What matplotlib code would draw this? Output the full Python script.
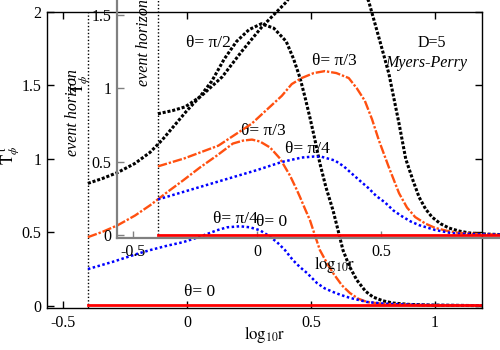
"""Energy density T_phi^t vs log10 r for D=5 Myers-Perry, with overlaid copy (inset)."""

import matplotlib
matplotlib.use("Agg")
import matplotlib.pyplot as plt

plt.rcParams["font.family"] = ["Liberation Serif", "DejaVu Serif"]
plt.rcParams["mathtext.fontset"] = "stix"

# ---- main panel data (log10 r, T) ----
main_black_x = [-0.40, -0.34, -0.28, -0.21, -0.15, -0.10, -0.05, 0.0, 0.05, 0.10, 0.15, 0.20,
                0.25, 0.30, 0.35, 0.40, 0.43, 0.456, 0.476, 0.496, 0.516, 0.536, 0.56, 0.589,
                0.61, 0.629, 0.655, 0.685, 0.72, 0.75, 0.79, 0.83, 0.90, 0.98, 1.19]
main_black_y = [0.834, 0.868, 0.908, 0.97, 1.044, 1.13, 1.23, 1.33, 1.42, 1.53, 1.68, 1.80,
                1.88, 1.92, 1.89, 1.80, 1.68, 1.55, 1.42, 1.28, 1.13, 0.97, 0.81, 0.65,
                0.51, 0.38, 0.27, 0.176, 0.10, 0.061, 0.035, 0.020, 0.010, 0.006, 0.002]

main_orange_x = [-0.40, -0.34, -0.28, -0.21, -0.149, -0.081, -0.016, 0.052, 0.121, 0.185,
                 0.226, 0.262, 0.294, 0.335, 0.375, 0.415, 0.44, 0.456, 0.476, 0.496, 0.516,
                 0.536, 0.565, 0.589, 0.625, 0.657, 0.69, 0.726, 0.79, 0.90, 1.0, 1.19]
main_orange_y = [0.468, 0.505, 0.549, 0.615, 0.685, 0.773, 0.854, 0.942, 1.024, 1.105,
                 1.125, 1.132, 1.119, 1.078, 1.003, 0.888, 0.80, 0.74, 0.66, 0.583, 0.48,
                 0.380, 0.29, 0.224, 0.14, 0.088, 0.05, 0.027, 0.014, 0.008, 0.005, 0.003]

main_blue_x = [-0.40, -0.30, -0.20, -0.149, -0.08, -0.016, 0.05, 0.121, 0.161, 0.214, 0.254,
               0.294, 0.327, 0.363, 0.395, 0.427, 0.455, 0.484, 0.524, 0.555, 0.589, 0.62,
               0.657, 0.726, 0.80, 0.90, 1.0, 1.19]
main_blue_y = [0.251, 0.30, 0.355, 0.380, 0.41, 0.434, 0.47, 0.515, 0.535, 0.542, 0.535,
               0.515, 0.48, 0.434, 0.38, 0.312, 0.265, 0.224, 0.156, 0.12, 0.095, 0.075,
               0.055, 0.027, 0.015, 0.009, 0.006, 0.004]

main_red_x = [-0.40, 0.0, 0.5, 1.0, 1.19]
main_red_y = [0.005, 0.005, 0.005, 0.005, 0.005]

# ---- inset (overlaid) panel data ----
inset_black_x = [-0.40, -0.34, -0.29, -0.225, -0.14, -0.063, 0.02, 0.119, 0.20, 0.25, 0.30,
                 0.35, 0.40, 0.451, 0.496, 0.532, 0.573, 0.60, 0.63, 0.654, 0.68, 0.706,
                 0.74, 0.775, 0.815, 0.856, 0.93, 1.0, 1.19]
inset_black_y = [0.828, 0.85, 0.875, 0.949, 1.08, 1.25, 1.42, 1.59, 1.80, 1.88, 1.92,
                 1.89, 1.80, 1.59, 1.32, 1.10, 0.76, 0.52, 0.37, 0.26, 0.18, 0.125,
                 0.08, 0.05, 0.03, 0.017, 0.009, 0.005, 0.002]

inset_orange_x = [-0.40, -0.294, -0.156, -0.022, 0.10, 0.14, 0.18, 0.229, 0.273, 0.32, 0.37,
                  0.403, 0.435, 0.464, 0.492, 0.532, 0.573, 0.605, 0.638, 0.68, 0.719, 0.77,
                  0.816, 0.90, 1.0, 1.19]
inset_orange_y = [0.470, 0.524, 0.611, 0.760, 0.95, 1.03, 1.071, 1.105, 1.118, 1.105, 1.071,
                  1.0, 0.916, 0.79, 0.645, 0.463, 0.287, 0.19, 0.125, 0.08, 0.051, 0.03,
                  0.017, 0.009, 0.005, 0.003]

inset_blue_x = [-0.40, -0.30, -0.20, -0.10, 0.0, 0.10, 0.18, 0.23, 0.261, 0.314, 0.35,
                0.383, 0.42, 0.451, 0.48, 0.516, 0.55, 0.585, 0.62, 0.654, 0.719, 0.787,
                0.88, 1.0, 1.19]
inset_blue_y = [0.245, 0.295, 0.345, 0.395, 0.445, 0.50, 0.53, 0.537, 0.535, 0.51, 0.47,
                0.42, 0.365, 0.32, 0.27, 0.225, 0.17, 0.13, 0.095, 0.07, 0.037, 0.015,
                0.008, 0.005, 0.003]

inset_red_x = [-0.40, 0.0, 0.5, 1.0, 1.19]
inset_red_y = [0.003, 0.003, 0.003, 0.003, 0.003]

horizon = -0.40
xticks = [-0.5, 0, 0.5, 1]
xticklabels = ["-0.5", "0", "0.5", "1"]
yticks = [0, 0.5, 1, 1.5, 2]
yticklabels = ["0", "0.5", "1", "1.5", "2"]

BLACK = dict(color="black", lw=2.2, ls=(0, (1, 0.6)))
ORANGE = dict(color="#ff5010", lw=1.7, ls=(0, (4, 0.8, 1, 0.8)))
BLUE = dict(color="#0000ff", lw=1.8, ls=(0, (1, 1)))
RED = dict(color="#ff0000", lw=2.0, ls="-")
LBL = dict(fontsize=12.5, ha="center", va="center")


def setup(ax, spine_color, spine_lw, xt):
    ax.set_xlim(-0.565, 1.19)
    ax.set_ylim(-0.014, 2.0)
    ax.set_xticks(xt)
    ax.set_xticklabels(xticklabels[:len(xt)])
    ax.set_yticks(yticks)
    ax.set_yticklabels(yticklabels)
    ax.tick_params(direction="in", length=5, top=True, right=True, labelsize=11.5,
                   color=spine_color, width=1)
    ax.tick_params(axis="y", pad=4)
    ax.tick_params(axis="x", pad=5)
    for s in ax.spines.values():
        s.set_color(spine_color)
        s.set_linewidth(spine_lw)
    ax.axvline(horizon, color="black", lw=1.0, ls=(0, (1, 1.5)))
    ax.set_xlabel(r"$\mathrm{log}_{10}\mathrm{r}$", fontsize=12)
    ax.xaxis.set_label_coords(0.5, -16 / 296)
    ax.set_ylabel(r"$\mathrm{T}_{\phi}^{\ \mathrm{t}}$", fontsize=12)
    ax.yaxis.set_label_coords(-25 / 435, 153 / 296)


fig = plt.figure(figsize=(5, 3.5), dpi=100)
ax = fig.add_axes([0.094, 0.12, 0.87, 0.8457])
ins = fig.add_axes([0.234, 0.3214, 0.87, 0.8457])
ins.patch.set_visible(False)

setup(ax, "black", 1.0, xticks)
setup(ins, "#808080", 1.6, xticks[:3])

ax.plot(main_black_x, main_black_y, **BLACK)
ax.plot(main_orange_x, main_orange_y, **ORANGE)
ax.plot(main_blue_x, main_blue_y, **BLUE)
ax.plot(main_red_x, main_red_y, **RED)

ins.plot(inset_black_x, inset_black_y, **BLACK)
ins.plot(inset_orange_x, inset_orange_y, **ORANGE)
ins.plot(inset_blue_x, inset_blue_y, **BLUE)
ins.plot(inset_red_x, inset_red_y, **RED)

ax.text(0.085, 1.79, "θ= π/2", **LBL)
ax.text(0.306, 1.19, "θ= π/3", **LBL)
ax.text(0.194, 0.59, "θ= π/4", **LBL)
ax.text(0.052, 0.095, "θ= 0", **LBL)
ax.text(0.988, 1.79, "D=5", fontsize=11.5, ha="center", va="center")
ax.text(0.964, 1.65, "Myers-Perry", style="italic", fontsize=11.5, ha="center", va="center")
ax.text(-0.46, 1.315, "event horizon", style="italic", rotation=90, fontsize=11.5,
        ha="center", va="center")

ins.text(0.31, 1.186, "θ= π/3", **LBL)
ins.text(0.204, 0.59, "θ= π/4", **LBL)
ins.text(0.059, 0.09, "θ= 0", **LBL)
ins.text(-0.455, 1.31, "event horizon", style="italic", rotation=90, fontsize=11.5,
         ha="center", va="center")

fig.savefig("out.png", dpi=100)
